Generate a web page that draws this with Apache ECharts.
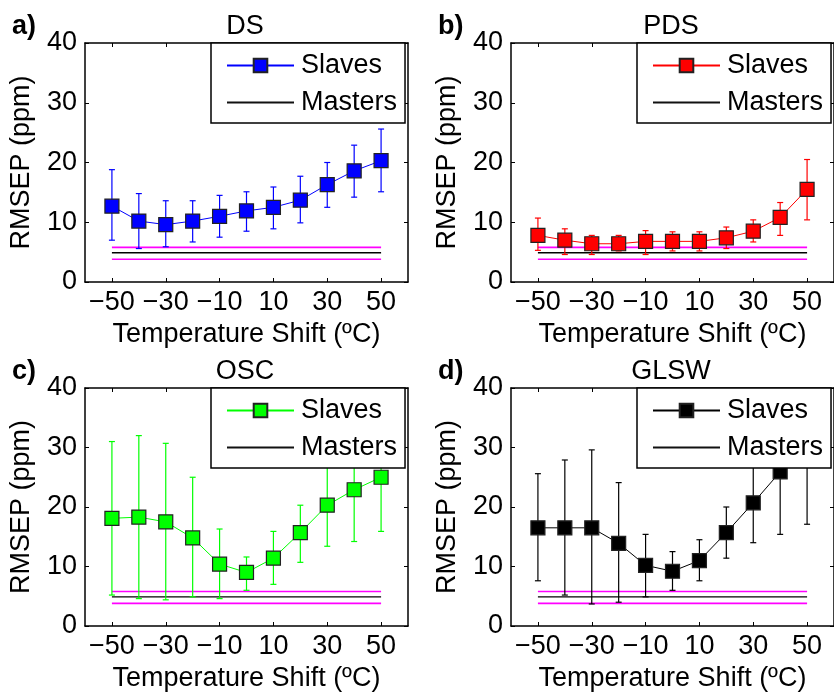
<!DOCTYPE html>
<html>
<head>
<meta charset="utf-8">
<script src="https://cdn.jsdelivr.net/npm/echarts@6/dist/echarts.min.js"></script>
<style>
  html, body { margin: 0; padding: 0; background: #fff; }
  #chart { width: 834px; height: 693px; }
</style>
</head>
<body>
<div id="chart"></div>
<script>
// temperature shift of the slave instrument (x)
var temps = [-50, -40, -30, -20, -10, 0, 10, 20, 30, 40, 50];
var xTicks = [-50, -30, -10, 10, 30, 50];

// RMSEP (ppm): mean and error bar limits per method
var dsMean = [12.7, 10.2, 9.6, 10.2, 11.0, 11.9, 12.5, 13.7, 16.3, 18.6, 20.3];
var dsLow  = [7.0, 5.6, 5.9, 6.7, 7.5, 8.5, 8.9, 9.9, 12.5, 14.2, 15.1];
var dsHigh = [18.8, 14.8, 13.6, 13.6, 14.5, 15.1, 15.9, 17.7, 20.0, 22.9, 25.6];

var pdsMean = [7.8, 7.0, 6.4, 6.4, 6.8, 6.8, 6.8, 7.4, 8.5, 10.8, 15.5];
var pdsLow  = [5.3, 4.6, 4.6, 5.2, 4.6, 5.2, 5.2, 5.6, 6.7, 7.8, 10.4];
var pdsHigh = [10.7, 8.9, 7.8, 7.8, 8.6, 8.4, 8.4, 9.2, 10.4, 13.3, 20.5];

var oscMean = [18.1, 18.3, 17.5, 14.8, 10.4, 9.0, 11.4, 15.7, 20.3, 22.9, 25.0];
var oscLow  = [5.2, 4.6, 4.4, 4.9, 4.6, 6.0, 7.0, 10.7, 13.4, 14.2, 15.9];
var oscHigh = [31.0, 32.0, 30.7, 25.0, 16.3, 11.6, 15.9, 20.3, 27.2, 31.6, 34.1];

var glswMean = [16.5, 16.5, 16.5, 13.9, 10.2, 9.2, 11.0, 15.7, 20.7, 25.9, 29.5];
var glswLow  = [7.6, 5.2, 3.7, 4.0, 4.9, 6.0, 7.6, 11.4, 14.0, 15.4, 17.1];
var glswHigh = [25.6, 27.9, 29.6, 24.1, 15.4, 12.5, 14.5, 20.0, 27.4, 36.4, 41.9];

// master instrument: mean and its band
var masterMean = 4.9;
var masterBand = [3.8, 5.8];
var masterRange = [-50, 50];

var FONT = 'Liberation Sans';
var FS = 27;

var panels = [
    { label: 'a)', title: 'DS',   color: '#0000ff', mean: dsMean,   low: dsLow,   high: dsHigh,   grid: { left: 85,  top: 43,  width: 323, height: 239 } },
    { label: 'b)', title: 'PDS',  color: '#ff0000', mean: pdsMean,  low: pdsLow,  high: pdsHigh,  grid: { left: 511, top: 43,  width: 324, height: 239 } },
    { label: 'c)', title: 'OSC',  color: '#00ff00', mean: oscMean,  low: oscLow,  high: oscHigh,  grid: { left: 85,  top: 388, width: 323, height: 238 } },
    { label: 'd)', title: 'GLSW', color: '#000000', mean: glswMean, low: glswLow, high: glswHigh, grid: { left: 511, top: 388, width: 324, height: 238 } }
];

function minusFmt(v) {
    return v < 0 ? '\u2212' + Math.abs(v) : String(v);
}

function errorBarRenderer(color) {
    return function (params, api) {
        var x = api.value(0);
        var p0 = api.coord([x, api.value(1)]);
        var p1 = api.coord([x, api.value(2)]);
        var cap = 3;
        var st = { stroke: color, lineWidth: 1.2 };
        return {
            type: 'group',
            children: [
                { type: 'line', shape: { x1: p0[0], y1: p0[1], x2: p1[0], y2: p1[1] }, style: st },
                { type: 'line', shape: { x1: p0[0] - cap, y1: p0[1], x2: p0[0] + cap, y2: p0[1] }, style: st },
                { type: 'line', shape: { x1: p1[0] - cap, y1: p1[1], x2: p1[0] + cap, y2: p1[1] }, style: st }
            ]
        };
    };
}

var grids = [], xAxes = [], yAxes = [], series = [], titles = [], legends = [];
var axisLine = { show: true, onZero: false, lineStyle: { color: '#000', width: 1.5 } };

panels.forEach(function (p, i) {
    grids.push(p.grid);
    var xBase = {
        type: 'value', gridIndex: i, min: -60, max: 60,
        axisLine: axisLine, splitLine: { show: false },
        axisTick: { inside: true, length: 4, customValues: xTicks, lineStyle: { color: '#000' } }
    };
    xAxes.push(Object.assign({}, xBase, {
        position: 'bottom',
        axisLabel: { customValues: xTicks, formatter: minusFmt, color: '#000', fontFamily: FONT, fontSize: FS, margin: 7 },
        name: 'Temperature Shift (\u00baC)', nameLocation: 'middle', nameGap: 39,
        nameTextStyle: { color: '#000', fontFamily: FONT, fontSize: FS }
    }));
    xAxes.push(Object.assign({}, xBase, { position: 'top', axisLabel: { show: false } }));

    var yBase = {
        type: 'value', gridIndex: i, min: 0, max: 40, interval: 10,
        axisLine: axisLine, splitLine: { show: false },
        axisTick: { inside: true, length: 4, lineStyle: { color: '#000' } }
    };
    yAxes.push(Object.assign({}, yBase, {
        position: 'left',
        axisLabel: { color: '#000', fontFamily: FONT, fontSize: FS, margin: 8 },
        name: 'RMSEP (ppm)', nameLocation: 'middle', nameGap: 50,
        nameTextStyle: { color: '#000', fontFamily: FONT, fontSize: FS }
    }));
    yAxes.push(Object.assign({}, yBase, { position: 'right', axisLabel: { show: false } }));

    var xi = 2 * i, yi = 2 * i;
    var centerX = p.grid.left + 160;

    // master lines
    [masterBand[0], masterBand[1]].forEach(function (v, k) {
        series.push({
            name: 'band' + i + k, type: 'line', xAxisIndex: xi, yAxisIndex: yi,
            data: [[masterRange[0], v], [masterRange[1], v]], symbol: 'none', silent: true,
            lineStyle: { color: '#ff00ff', width: 1.6 }, z: 1
        });
    });
    series.push({
        name: 'Masters', type: 'line', xAxisIndex: xi, yAxisIndex: yi,
        data: [[masterRange[0], masterMean], [masterRange[1], masterMean]], symbol: 'none',
        itemStyle: { color: '#000' }, lineStyle: { color: '#000', width: 1.4 }, z: 1
    });

    // error bars
    series.push({
        name: 'err' + i, type: 'custom', xAxisIndex: xi, yAxisIndex: yi, clip: true,
        data: temps.map(function (t, k) { return [t, p.low[k], p.high[k]]; }),
        encode: { x: 0, y: [1, 2] },
        renderItem: errorBarRenderer(p.color), z: 2
    });

    // slaves
    series.push({
        name: 'Slaves', type: 'line', xAxisIndex: xi, yAxisIndex: yi,
        data: temps.map(function (t, k) { return [t, p.mean[k]]; }),
        symbol: 'rect', symbolSize: 14,
        itemStyle: { color: p.color, borderColor: '#222', borderWidth: 1.2 },
        lineStyle: { color: p.color, width: 1 }, z: 3
    });

    titles.push({
        text: p.title, left: centerX, top: p.grid.top - 30, textAlign: 'center', padding: 0,
        textStyle: { color: '#000', fontFamily: FONT, fontSize: FS, fontWeight: 'normal' }
    });
    titles.push({
        text: p.label, left: p.grid.left - 73, top: p.grid.top - 30, padding: 0,
        textStyle: { color: '#000', fontFamily: FONT, fontSize: FS, fontWeight: 'bold' }
    });

    legends.push({
        left: p.grid.left + 126, top: p.grid.top, orient: 'vertical',
        backgroundColor: '#fff', borderColor: '#000', borderWidth: 1.5, borderRadius: 0,
        padding: [9, 8, 7, 15], itemGap: 10, itemWidth: 67, itemHeight: 17,
        textStyle: { color: '#000', fontFamily: FONT, fontSize: FS, padding: [0, 0, 0, 2] },
        selectedMode: false,
        data: [
            { name: 'Slaves', itemStyle: { color: p.color, borderColor: '#222' }, lineStyle: { color: p.color } },
            { name: 'Masters', itemStyle: { opacity: 0 }, lineStyle: { color: '#111' } }
        ]
    });
});

var option = {
    animation: false,
    backgroundColor: '#fff',
    title: titles,
    legend: legends,
    grid: grids,
    xAxis: xAxes,
    yAxis: yAxes,
    series: series
};

var chart = echarts.init(document.getElementById('chart'));
chart.setOption(option);
</script>
</body>
</html>
